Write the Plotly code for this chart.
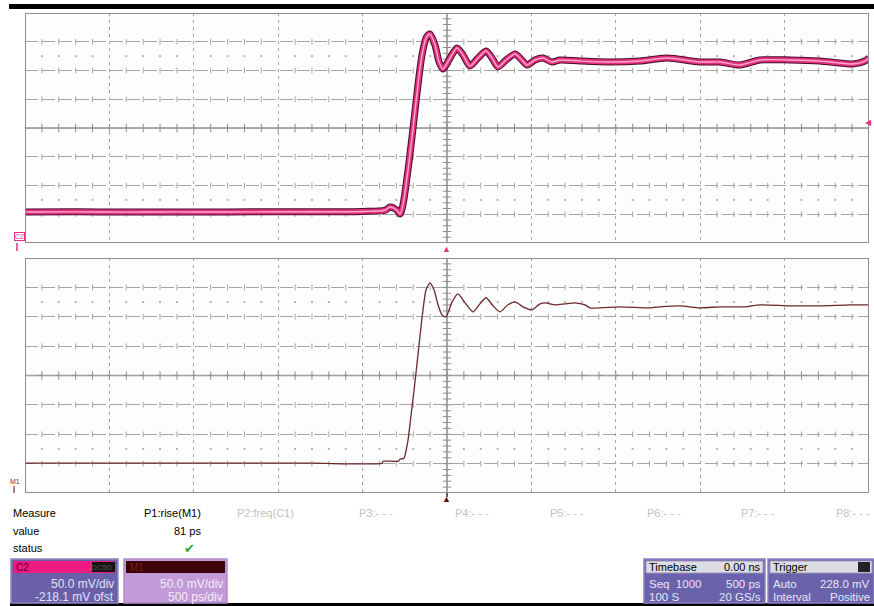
import numpy as np
import plotly.graph_objects as go

# ---- acquisition data (time in ps, amplitude in mV) ----
t_c2 = [-2500, -2200, -1900, -1600, -1300, -1000, -700, -500, -367, -338,
        -300, -278, -261, -231, -201, -172, -148, -124, -101, -71,
        -47, -24, 18, 59, 95, 136, 184, 231, 267, 302,
        350, 403, 438, 474, 521, 569, 622, 669, 788, 966,
        1144, 1303, 1498, 1617, 1735, 1854, 2032, 2209, 2405, 2476, 2500]
v_c2 = [72.0, 72.3, 71.8, 72.2, 72.0, 72.5, 72.4, 73.0, 75.0, 80.7,
        76.0, 68.5, 84.2, 145.1, 218.1, 292.9, 345.1, 374.6, 381.6, 362.4,
        332.9, 320.7, 339.8, 357.2, 345.1, 325.9, 339.8, 352.0, 339.8, 324.2,
        336.4, 346.8, 338.1, 327.7, 336.4, 339.8, 332.9, 336.4, 334.6, 332.9,
        334.6, 339.8, 332.9, 332.9, 327.7, 336.4, 336.4, 334.6, 329.4, 334.6, 339.8]

t_m1 = [-2500, -1500, -800, -385, -379, -290, -278, -255, -231, -213,
        -195, -172, -148, -124, -101, -77, -53, -30, -6, 30,
        65, 107, 154, 195, 231, 273, 314, 361, 403, 450,
        504, 551, 581, 640, 699, 758, 818, 847, 1025, 1203,
        1262, 1380, 1499, 1617, 1765, 1854, 2032, 2210, 2387, 2500]
v_m1 = [68.8, 68.8, 68.8, 68.8, 72.2, 72.2, 75.6, 77.3, 108.0, 150.7,
        193.4, 253.1, 316.2, 364.0, 375.9, 364.0, 338.4, 321.3, 317.9, 343.5,
        357.2, 341.8, 326.5, 340.1, 350.4, 336.7, 326.5, 338.4, 343.5, 335.0,
        329.9, 340.1, 341.8, 338.4, 340.1, 341.8, 338.4, 333.3, 335.0, 333.3,
        335.0, 336.7, 333.3, 335.0, 335.0, 338.4, 336.7, 336.7, 338.4, 338.4]

# ---- scope settings ----
TIME_DIV = 500.0      # ps/div
VOLT_DIV = 50.0       # mV/div
OFFSET = 218.1        # mV at screen centre
H_DIVS, V_DIVS = 10, 8
T_MIN, T_MAX = -H_DIVS / 2 * TIME_DIV, H_DIVS / 2 * TIME_DIV
V_MIN, V_MAX = OFFSET - V_DIVS / 2 * VOLT_DIV, OFFSET + V_DIVS / 2 * VOLT_DIV

W, H = 874, 606
def px(x): return x / W
def py(y): return 1 - y / H

FONT = "Liberation Sans, Arial, sans-serif"
GRID = "#a4a4a4"
FRAME = "#8e8e8e"

fig = go.Figure()

def tick_marker(symbol, size, color):
    return dict(symbol=symbol, size=size, color=color, line=dict(width=1, color=color))

def add_grid_marks(xa, ya):
    minor_t = np.arange(T_MIN, T_MAX + 1, TIME_DIV / 5)
    minor_t_only = np.array([t for t in minor_t if abs(t / TIME_DIV - round(t / TIME_DIV)) > 1e-6])
    major_v = [V_MIN + k * VOLT_DIV for k in range(1, V_DIVS) if k != V_DIVS // 2]
    # small cross ticks on the dashed horizontal graticule lines
    xs = np.tile(minor_t_only, len(major_v))
    ys = np.repeat(major_v, len(minor_t_only))
    fig.add_trace(go.Scatter(x=xs, y=ys, mode="markers", xaxis=xa, yaxis=ya,
                             marker=tick_marker("line-ns-open", 4, GRID),
                             hoverinfo="skip", showlegend=False))
    # dotted rows
    dot_v = [OFFSET + 2.5 * VOLT_DIV, OFFSET - 2.5 * VOLT_DIV]
    xs = np.tile(minor_t_only, len(dot_v))
    ys = np.repeat(dot_v, len(minor_t_only))
    fig.add_trace(go.Scatter(x=xs, y=ys, mode="markers", xaxis=xa, yaxis=ya,
                             marker=dict(symbol="square", size=2, color="#b4b4b4"),
                             hoverinfo="skip", showlegend=False))
    # ticks on the centre cross
    fig.add_trace(go.Scatter(x=minor_t, y=[OFFSET] * len(minor_t), mode="markers", xaxis=xa, yaxis=ya,
                             marker=tick_marker("line-ns-open", 6, FRAME),
                             hoverinfo="skip", showlegend=False))
    minor_v = np.arange(V_MIN, V_MAX + 0.01, VOLT_DIV / 5)
    fig.add_trace(go.Scatter(x=[0] * len(minor_v), y=minor_v, mode="markers", xaxis=xa, yaxis=ya,
                             marker=tick_marker("line-ew-open", 6, FRAME),
                             hoverinfo="skip", showlegend=False))
    xr = "x" if xa == "x" else "x2"
    yr = "y" if ya == "y" else "y2"
    fig.add_shape(type="line", xref=xr, yref=yr, x0=T_MIN, x1=T_MAX, y0=OFFSET, y1=OFFSET,
                  line=dict(color=FRAME, width=1.5), layer="below")
    fig.add_shape(type="line", xref=xr, yref=yr, x0=0, x1=0, y0=V_MIN, y1=V_MAX,
                  line=dict(color="#7a7a7a", width=1.3), layer="below")
    fig.add_shape(type="rect", xref=xr, yref=yr, x0=T_MIN, x1=T_MAX, y0=V_MIN, y1=V_MAX,
                  line=dict(color=FRAME, width=2), layer="above")

add_grid_marks("x", "y")
add_grid_marks("x2", "y2")

# C2 trace: persistence band
for w, c in [(7, "#4a0c2a"), (5, "#e2307f"), (1.4, "#f8a8cc")]:
    fig.add_trace(go.Scatter(x=t_c2, y=v_c2, mode="lines", xaxis="x", yaxis="y",
                             line=dict(color=c, width=w, shape="spline", smoothing=0.7),
                             hoverinfo="skip", showlegend=False))
# M1 trace
fig.add_trace(go.Scatter(x=t_m1, y=v_m1, mode="lines", xaxis="x2", yaxis="y2",
                         line=dict(color="#6b2828", width=1.3, shape="spline", smoothing=0.6),
                         name="M1", showlegend=False))

axis_common = dict(range=[T_MIN, T_MAX], showticklabels=False, ticks="", zeroline=False,
                   showgrid=True, gridcolor=GRID, gridwidth=1, griddash="3px,4px",
                   tick0=T_MIN, dtick=TIME_DIV, showline=False, fixedrange=True)
yaxis_common = dict(range=[V_MIN, V_MAX], showticklabels=False, ticks="", zeroline=False,
                    showgrid=True, gridcolor=GRID, gridwidth=1, griddash="13px,4px",
                    tick0=V_MIN, dtick=VOLT_DIV, showline=False, fixedrange=True)

fig.update_layout(
    width=W, height=H, margin=dict(l=0, r=0, t=0, b=0),
    paper_bgcolor="white", plot_bgcolor="#fdfdfd",
    xaxis=dict(domain=[px(25), px(869)], anchor="y", **axis_common),
    yaxis=dict(domain=[py(243), py(13)], anchor="x", **yaxis_common),
    xaxis2=dict(domain=[px(25), px(869)], anchor="y2", **axis_common),
    yaxis2=dict(domain=[py(493), py(258)], anchor="x2", **yaxis_common),
    font=dict(family=FONT, size=11, color="black"),
)

shapes = []
def rect(x0, y0, x1, y1, fill, line=None, lw=0):
    shapes.append(dict(type="rect", xref="paper", yref="paper", x0=px(x0), x1=px(x1),
                       y0=py(y1), y1=py(y0), fillcolor=fill,
                       line=dict(color=line or fill, width=lw)))

# black bars at top and bottom of the screen
rect(9, 4, 874, 9, "black")
rect(10, 603, 874, 606, "black")

# channel boxes
rect(11, 559, 118, 603, "#6a60a8", "#9088c4", 1.5)
rect(13, 561, 116, 573, "#ee1a80")
rect(92, 562, 115, 572, "#141414")
rect(124, 559, 227, 603, "#c39ad8", "#b08ccc", 1.5)
rect(126, 561, 225, 573, "#3c0404")
rect(644, 559, 765, 603, "#6a62aa", "#8a82c2", 1.5)
rect(646, 561, 763, 573, "#dcdce4", "#9a96b8", 1)
rect(768, 559, 874, 603, "#6a62aa", "#8a82c2", 1.5)
rect(770, 561, 872, 573, "#dcdce4", "#9a96b8", 1)
rect(858, 562, 870, 572, "#222222")

# ground / reference markers
shapes.append(dict(type="line", xref="paper", yref="paper", x0=px(447), x1=px(447), y0=py(493), y1=py(497),
                   line=dict(color="#5a1010", width=1.5)))
shapes.append(dict(type="line", xref="paper", yref="paper", x0=px(17), x1=px(17), y0=py(243), y1=py(251),
                   line=dict(color="#e8308a", width=1.5)))
shapes.append(dict(type="line", xref="paper", yref="paper", x0=px(14), x1=px(14), y0=py(486), y1=py(493),
                   line=dict(color="#7a2a2a", width=1.2)))
fig.update_layout(shapes=list(fig.layout.shapes) + shapes)

ann = []
def text(x, y, s, anchor="left", color="black", size=11, **kw):
    ann.append(dict(x=px(x), y=py(y), xref="paper", yref="paper", text=s, showarrow=False,
                    xanchor=anchor, yanchor="middle", font=dict(color=color, size=size, family=FONT), **kw))

# measurement table
text(11, 513, "Measure")
text(11, 531, "value")
text(11, 548, "status")
text(203, 513, "P1:rise(M1)", "right")
text(203, 531, "81 ps", "right")
text(197, 548, "✔", "right", color="#2eaa2e", size=13)
grey = "#c2c2c2"
text(235, 513, "P2:freq(C1)", color=grey)
for lbl, xx in [("P3:- - -", 357), ("P4:- - -", 453), ("P5:- - -", 548),
                ("P6:- - -", 645), ("P7:- - -", 739), ("P8:- - -", 834)]:
    text(xx, 513, lbl, color=grey)

# channel descriptor boxes
text(14, 567, "C2", color="#5a0030", size=10)
text(114, 567, "DC50", "right", color="#555555", size=8)
text(116, 584, "50.0 mV/div", "right", color="#e4e0f6", size=12)
text(116, 597, "-218.1 mV ofst", "right", color="#e4e0f6", size=12)
text(128, 567, "M1", color="#7a2020", size=10)
text(225, 584, "50.0 mV/div", "right", color="#f4ecfa", size=12)
text(225, 597, "500 ps/div", "right", color="#f4ecfa", size=12)

text(647, 567, "Timebase", size=11)
text(763, 567, "0.00 ns", "right", size=11)
text(647, 584, "Seq  1000", color="#e8e6f8", size=11.5)
text(763, 584, "500 ps", "right", color="#e8e6f8", size=11.5)
text(647, 597, "100 S", color="#e8e6f8", size=11.5)
text(763, 597, "20 GS/s", "right", color="#e8e6f8", size=11.5)
text(771, 567, "Trigger", size=11)
text(771, 584, "Auto", color="#e8e6f8", size=11.5)
text(872, 584, "228.0 mV", "right", color="#e8e6f8", size=11.5)
text(771, 597, "Interval", color="#e8e6f8", size=11.5)
text(872, 597, "Positive", "right", color="#e8e6f8", size=11.5)

# position / level markers
text(447, 249, "▲", "center", color="#e8308a", size=9)
text(447, 499, "▲", "center", color="#5a1010", size=9)
text(874, 123, "◀", "right", color="#e8308a", size=8)
text(19, 236, "C2", "center", color="#e8308a", size=7, bordercolor="#e8308a", borderwidth=1, borderpad=0)
text(15, 481, "M1", "center", color="#7a2a2a", size=7)

fig.update_layout(annotations=ann)

fig.write_html("out.html")
